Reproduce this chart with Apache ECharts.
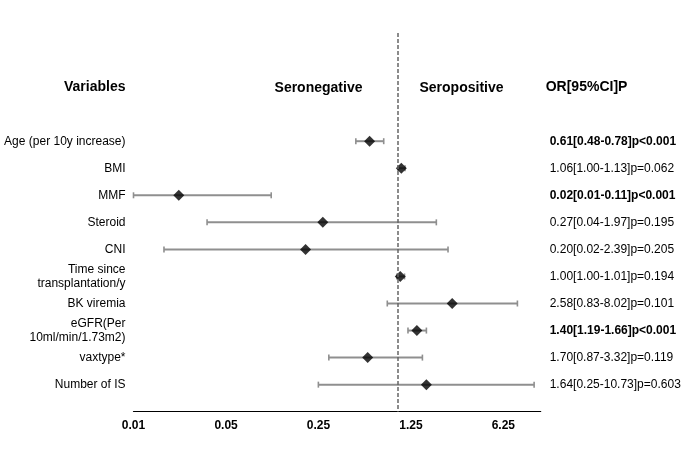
<!DOCTYPE html>
<html>
<head>
<meta charset="utf-8">
<script src="https://cdn.jsdelivr.net/npm/echarts@6/dist/echarts.min.js"></script>
<style>html,body{margin:0;padding:0;background:#fff;}#c{width:700px;height:450px;}</style>
</head>
<body>
<div id="c"></div>
<script>
const categories = ['Age (per 10y increase)', 'BMI', 'MMF', 'Steroid', 'CNI',
  'Time since\ntransplantation/y', 'BK viremia', 'eGFR(Per\n10ml/min/1.73m2)', 'vaxtype*', 'Number of IS'];
const orValues = [0.61, 1.06, 0.022, 0.27, 0.20, 1.04, 2.57, 1.39, 0.59, 1.64];
const ciLow    = [0.48, 1.00, 0.01, 0.036, 0.017, 0.98, 0.83, 1.19, 0.30, 0.25];
const ciHigh   = [0.78, 1.13, 0.11, 1.95, 2.39, 1.12, 8.0, 1.64, 1.53, 10.7];
const orText = ['0.61[0.48-0.78]p<0.001', '1.06[1.00-1.13]p=0.062', '0.02[0.01-0.11]p<0.001',
  '0.27[0.04-1.97]p=0.195', '0.20[0.02-2.39]p=0.205', '1.00[1.00-1.01]p=0.194',
  '2.58[0.83-8.02]p=0.101', '1.40[1.19-1.66]p<0.001', '1.70[0.87-3.32]p=0.119',
  '1.64[0.25-10.73]p=0.603'];
const significant = [true, false, true, false, false, false, false, true, false, false];
const tickLabels = ['0.01', '0.05', '0.25', '1.25', '6.25'];
const headerVariables = 'Variables';
const headerNegative = 'Seronegative';
const headerPositive = 'Seropositive';
const headerOR = 'OR[95%CI]P';
const referenceValue = 1;

const FONT = '"Liberation Sans", Arial, Helvetica, sans-serif';
const HEADER_ROW = -2;

const pointData = orValues.map((v, i) => [v, i]);
const ciData = ciLow.map((lo, i) => [lo, ciHigh[i], i]);

function tickFormatter(v) {
  for (const t of tickLabels) {
    if (Math.abs(v - parseFloat(t)) / parseFloat(t) < 0.02) return t;
  }
  return '';
}

const chart = echarts.init(document.getElementById('c'), null, {renderer: 'canvas'});
chart.setOption({
  backgroundColor: '#ffffff',
  animation: false,
  textStyle: {fontFamily: FONT},
  grid: {left: 133.5, right: 159.3, top: 33, bottom: 38.3, containLabel: false, outerBoundsMode: 'none'},
  xAxis: {
    type: 'log', logBase: 5, min: 0.01, max: 12, interval: 1,
    axisLine: {show: true, onZero: false, lineStyle: {color: '#000', width: 1.2}},
    axisTick: {show: false},
    splitLine: {show: false},
    minorTick: {show: false},
    axisLabel: {
      margin: 8, color: '#000', fontWeight: 'bold', fontSize: 12, fontFamily: FONT,
      showMaxLabel: false, formatter: tickFormatter
    }
  },
  yAxis: [{
    type: 'value', inverse: true, min: -4, max: 10, interval: 1, position: 'left',
    axisLine: {show: false}, axisTick: {show: false}, splitLine: {show: false},
    axisLabel: {
      margin: 8, color: '#000', fontSize: 12, fontFamily: FONT, lineHeight: 14, align: 'right',
      showMinLabel: true, showMaxLabel: true,
      formatter: function (v) {
        const r = Math.round(v);
        if (r === HEADER_ROW) return '{h|' + headerVariables + '}';
        if (r >= 0 && r < categories.length) return categories[r];
        return '';
      },
      rich: {h: {fontWeight: 'bold', fontSize: 14, fontFamily: FONT, color: '#000'}}
    }
  }, {
    type: 'value', inverse: true, min: -4, max: 10, interval: 1, position: 'right',
    axisLine: {show: false}, axisTick: {show: false}, splitLine: {show: false},
    axisLabel: {
      margin: 9, color: '#000', fontSize: 12, fontFamily: FONT, align: 'left',
      showMinLabel: true, showMaxLabel: true,
      formatter: function (v) {
        const r = Math.round(v);
        if (r === HEADER_ROW) return '{h|' + headerOR + '}';
        if (r >= 0 && r < orText.length) return significant[r] ? '{b|' + orText[r] + '}' : orText[r];
        return '';
      },
      rich: {
        h: {fontWeight: 'bold', fontSize: 14, fontFamily: FONT, color: '#000', padding: [0, 0, 0, -4]},
        b: {fontWeight: 'bold', fontSize: 12, fontFamily: FONT, color: '#000'}
      }
    }
  }],
  graphic: [
    {type: 'text', x: 318.5, y: 88.3, z: 10, style: {text: headerNegative, font: 'bold 14px ' + FONT, fill: '#000', align: 'center', verticalAlign: 'middle'}},
    {type: 'text', x: 461.5, y: 88.3, z: 10, style: {text: headerPositive, font: 'bold 14px ' + FONT, fill: '#000', align: 'center', verticalAlign: 'middle'}}
  ],
  series: [{
    type: 'custom',
    name: 'CI',
    z: 2,
    encode: {x: [0, 1], y: 2},
    data: ciData,
    renderItem: function (params, api) {
      const row = api.value(2);
      const p1 = api.coord([api.value(0), row]);
      const p2 = api.coord([api.value(1), row]);
      const cap = 3;
      const style = {stroke: '#8f8f8f', lineWidth: 2};
      const capStyle = {stroke: '#8f8f8f', lineWidth: 1.6};
      return {
        type: 'group',
        children: [
          {type: 'line', shape: {x1: p1[0], y1: p1[1], x2: p2[0], y2: p2[1]}, style: style},
          {type: 'line', shape: {x1: p1[0], y1: p1[1] - cap, x2: p1[0], y2: p1[1] + cap}, style: capStyle},
          {type: 'line', shape: {x1: p2[0], y1: p2[1] - cap, x2: p2[0], y2: p2[1] + cap}, style: capStyle}
        ]
      };
    }
  }, {
    type: 'scatter',
    name: 'OR',
    z: 3,
    symbol: 'diamond',
    symbolSize: 11,
    itemStyle: {color: '#000'},
    data: pointData,
    markLine: {
      silent: true, symbol: ['none', 'none'], label: {show: false},
      lineStyle: {type: [4, 2], color: '#666', width: 1.5},
      data: [{xAxis: referenceValue}]
    }
  }]
});
</script>
</body>
</html>
